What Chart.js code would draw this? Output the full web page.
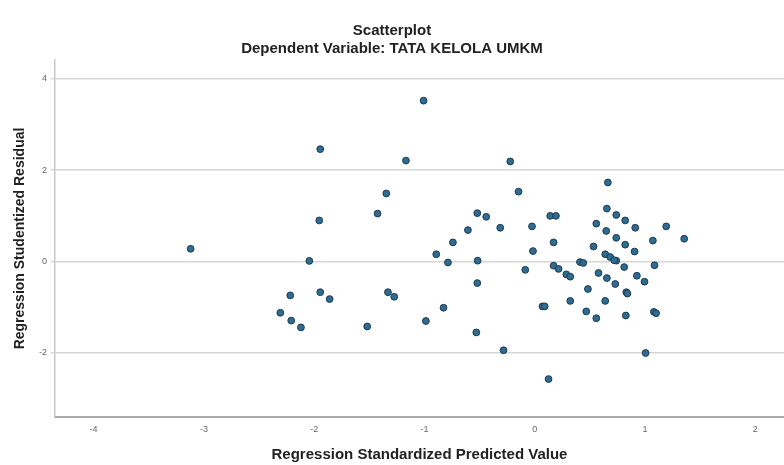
<!DOCTYPE html>
<html>
<head>
<meta charset="utf-8">
<script src="https://cdn.jsdelivr.net/npm/chart.js@4.4.1/dist/chart.umd.min.js"></script>
<style>
    body { margin: 0; background: #fff; }
    #wrap { width: 784px; height: 465px; }
</style>
</head>
<body>
<div id="wrap"><canvas id="scatter" width="784" height="465"></canvas></div>
<script>
// predicted (standardized) and studentized residual
var predicted = [
    -3.12, -1.945, -1.346, -1.425, -1.954, -2.044, -2.217, -1.945, -1.860, -2.307,
    -2.208, -2.120, -1.519, -1.331, -1.274, -1.008, -1.168, -0.222, -0.147, -0.521,
    -0.440, -0.313, -0.606, -0.742, -0.893, -0.025, 0.140, 0.192, 0.171, -0.016,
    -0.787, -0.518, -0.086, 0.171, 0.216, 0.286, 0.322, -0.521, -0.827, -0.987,
    -0.530, -0.283, 0.07, 0.09, 0.322, 0.125, 0.663, 0.654, 0.739, 0.820,
    0.911, 1.192, 1.355, 0.558, 0.648, 0.739, 0.820, 0.905, 1.071, 0.533,
    0.639, 0.684, 0.739, 0.811, 1.086, 0.41, 0.44, 0.578, 0.654, 0.926,
    0.730, 0.995, 0.482, 0.830, 0.84, 0.639, 0.467, 0.558, 0.826, 1.08,
    1.10, 1.005, 0.72
];
var residual = [
    0.28, 2.46, 1.49, 1.05, 0.90, 0.015, -0.74, -0.67, -0.82, -1.12,
    -1.29, -1.44, -1.42, -0.67, -0.77, 3.52, 2.21, 2.19, 1.53, 1.06,
    0.98, 0.74, 0.69, 0.42, 0.16, 0.77, 1.00, 1.00, 0.42, 0.23,
    -0.02, 0.02, -0.18, -0.09, -0.16, -0.28, -0.33, -0.47, -1.01, -1.30,
    -1.55, -1.94, -0.98, -0.98, -0.86, -2.57, 1.73, 1.16, 1.02, 0.90,
    0.74, 0.77, 0.50, 0.83, 0.67, 0.52, 0.37, 0.22, 0.46, 0.33,
    0.16, 0.10, 0.02, -0.12, -0.08, -0.01, -0.03, -0.25, -0.36, -0.31,
    -0.49, -0.44, -0.60, -0.67, -0.70, -0.86, -1.09, -1.24, -1.18, -1.10,
    -1.13, -2.00, 0.03
];
var xTicks = [-4, -3, -2, -1, 0, 1, 2];
var yTicks = [-2, 0, 2, 4];

function buildPoints() {
    var pts = [];
    for (var i = 0; i < predicted.length; i++) {
        pts.push({ x: predicted[i], y: residual[i] });
    }
    return pts;
}

var ctx = document.getElementById('scatter').getContext('2d');
var chart = new Chart(ctx, {
    type: 'scatter',
    data: {
        datasets: [{
            data: buildPoints(),
            backgroundColor: '#2f6c91',
            borderColor: '#1d3a50',
            borderWidth: 1,
            pointRadius: 3.4
        }]
    },
    options: {
        responsive: false,
        animation: false,
        layout: { padding: 0, autoPadding: false },
        plugins: {
            legend: { display: false },
            tooltip: { enabled: false },
            title: {
                display: true,
                text: 'Scatterplot',
                color: '#222',
                font: { family: 'Liberation Sans, Arial, sans-serif', size: 15, weight: 'bold' },
                padding: { top: 22, bottom: 0 }
            },
            subtitle: {
                display: true,
                text: 'Dependent Variable: TATA KELOLA UMKM',
                color: '#222',
                font: { family: 'Liberation Sans, Arial, sans-serif', size: 15, weight: 'bold' },
                padding: { top: 0, bottom: 2 }
            }
        },
        scales: {
            x: {
                type: 'linear',
                min: -4.35,
                max: 2.26,
                afterBuildTicks: function (scale) {
                    scale.ticks = xTicks.map(function (v) { return { value: v }; });
                },
                afterFit: function (scale) {
                    scale.height = 48;
                    scale.paddingLeft = 0;
                    scale.paddingRight = 0;
                },
                grid: { display: false, drawTicks: false },
                border: { display: true, color: '#a9a9a9', width: 2 },
                ticks: {
                    color: '#666',
                    padding: 7,
                    font: { family: 'Liberation Sans, Arial, sans-serif', size: 9 }
                },
                title: {
                    display: true,
                    text: 'Regression Standardized Predicted Value',
                    color: '#222',
                    font: { family: 'Liberation Sans, Arial, sans-serif', size: 15, weight: 'bold' },
                    padding: { top: 0, bottom: 1 }
                }
            },
            y: {
                type: 'linear',
                min: -3.4,
                max: 4.41,
                afterBuildTicks: function (scale) {
                    scale.ticks = yTicks.map(function (v) { return { value: v }; });
                },
                afterFit: function (scale) {
                    scale.width = 55;
                    scale.paddingTop = 0;
                    scale.paddingBottom = 0;
                },
                grid: { color: '#d6d6d6', lineWidth: 1.5, drawTicks: true, tickLength: 4 },
                border: { display: true, color: '#c8c8c8', width: 1.5 },
                ticks: {
                    color: '#666',
                    padding: 4,
                    font: { family: 'Liberation Sans, Arial, sans-serif', size: 9 }
                },
                title: {
                    display: true,
                    text: 'Regression Studentized Residual',
                    color: '#222',
                    font: { family: 'Liberation Sans, Arial, sans-serif', size: 14, weight: 'bold' },
                    padding: { top: 12, bottom: 0 }
                }
            }
        }
    }
});
</script>
</body>
</html>
